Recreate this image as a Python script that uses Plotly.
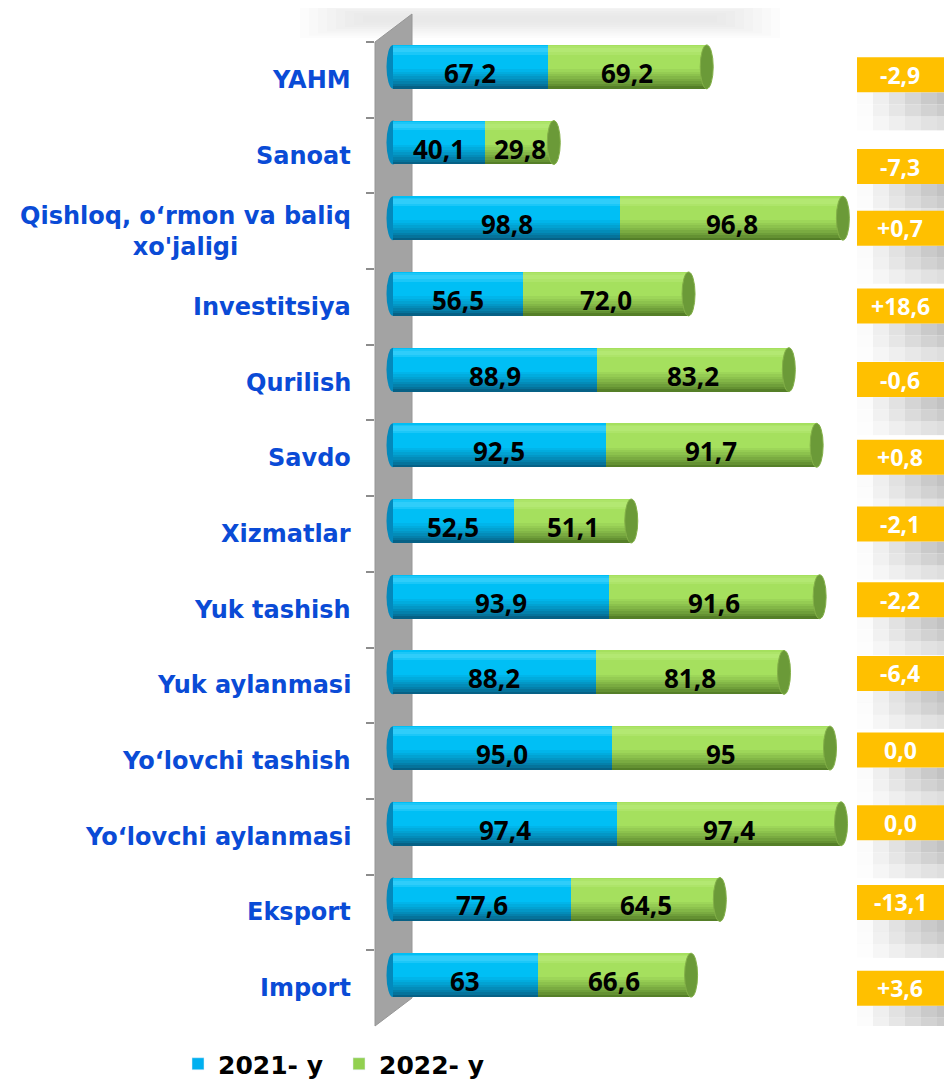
import plotly.graph_objects as go

categories = [
    "YAHM",
    "Sanoat",
    "Qishloq, o‘rmon va baliq<br>xo'jaligi",
    "Investitsiya",
    "Qurilish",
    "Savdo",
    "Xizmatlar",
    "Yuk tashish",
    "Yuk aylanmasi",
    "Yo‘lovchi tashish",
    "Yo‘lovchi aylanmasi",
    "Eksport",
    "Import",
]
values_2021 = [67.2, 40.1, 98.8, 56.5, 88.9, 92.5, 52.5, 93.9, 88.2, 95.0, 97.4, 77.6, 63]
values_2022 = [69.2, 29.8, 96.8, 72.0, 83.2, 91.7, 51.1, 91.6, 81.8, 95, 97.4, 64.5, 66.6]
labels_2021 = ["67,2", "40,1", "98,8", "56,5", "88,9", "92,5", "52,5", "93,9", "88,2", "95,0", "97,4", "77,6", "63"]
labels_2022 = ["69,2", "29,8", "96,8", "72,0", "83,2", "91,7", "51,1", "91,6", "81,8", "95", "97,4", "64,5", "66,6"]
change = ["-2,9", "-7,3", "+0,7", "+18,6", "-0,6", "+0,8", "-2,1", "-2,2", "-6,4", "0,0", "0,0", "-13,1", "+3,6"]
series_names = ["2021- y", "2022- y"]

# page geometry (px). The page body adds an 8px margin, so the figure is
# made 8px smaller and every position below is given in page pixels.
OFF = 8
W, H = 952 - OFF, 1082 - OFF
L = 375 - OFF
T = 42 - OFF
R = W - (855 - OFF)
B = H - (1026 - OFF)
PW, PH = W - L - R, H - T - B
X0_PX = 393          # page x where value 0 sits
SCALE = 2.30         # px per unit
N = len(categories)
STEP = PH / N
BAR_W = 0.58
SHIFT = 13 / STEP    # bars sit a little above their category row
TOP = -BAR_W / 2 - SHIFT
CAP_W = 13 / SCALE

# small vertical nudges (px, down) of the orange boxes, as in the original
BOX_NUDGE = [-5, 11, -3, -1, -3, -1, -10, -10, -12, -11, -14, -10, 0]
BOX_LEFT = 857 - 375   # px from plot's left edge

LABEL_BLUE = "#0A4BD6"
ORANGE = "#FFC000"


def mix(c1, c2, t):
    a = [int(c1[k:k + 2], 16) for k in (1, 3, 5)]
    b = [int(c2[k:k + 2], 16) for k in (1, 3, 5)]
    return "#" + "".join(f"{round(x + (y - x) * t):02X}" for x, y in zip(a, b))


def cylinder_layers(dark, main):
    # full bar in the dark tone, then shorter (top-aligned) bands getting brighter
    n = 9
    out = []
    for k in range(n):
        frac = 1.0 - 0.45 * k / (n - 1)
        out.append((frac, mix(dark, main, (k / (n - 1)) ** 0.8)))
    return out


BLUE_LAYERS = cylinder_layers("#066186", "#00BFF5")
GREEN_LAYERS = cylinder_layers("#557F28", "#A5E05E")
BLUE_HI = "#4ED6FF"
GREEN_HI = "#BCEE80"


def px_x(px):
    return (px - OFF - L) / PW


def px_y(py):
    return (H - B - (py - OFF)) / PH


fig = go.Figure()

totals = [a + b for a, b in zip(values_2021, values_2022)]

for vals, base, layers, hi in [
    (values_2021, [0] * N, BLUE_LAYERS, BLUE_HI),
    (values_2022, values_2021, GREEN_LAYERS, GREEN_HI),
]:
    for frac, col in layers:
        fig.add_trace(go.Bar(
            y=categories, x=vals, base=base, orientation="h",
            offset=TOP, width=BAR_W * frac,
            marker={"color": col, "line": {"width": 0}},
            showlegend=False, hoverinfo="skip",
        ))
    for a, b, op in [(0.03, 0.22, 0.35), (0.07, 0.17, 0.4)]:
        fig.add_trace(go.Bar(
            y=categories, x=vals, base=base, orientation="h",
            offset=TOP + BAR_W * a, width=BAR_W * (b - a),
            marker={"color": hi, "line": {"width": 0}}, opacity=op,
            showlegend=False, hoverinfo="skip",
        ))

# legend-only entries
for name, col in zip(series_names, ["#00B0F0", "#92D050"]):
    fig.add_trace(go.Bar(y=[categories[0]], x=[None], orientation="h", name=name,
                         marker={"color": col}, hoverinfo="skip"))

shapes = []

# blurred title ghost at top
for k in range(8):
    x0, x1 = 300 + k * 9, 780 - k * 9
    y0, y1 = 0 + k * 2.2, 38 - k * 2.2
    shapes.append(dict(type="rect", xref="paper", yref="paper",
                       x0=px_x(x0), x1=px_x(x1), y0=px_y(y1), y1=px_y(y0),
                       fillcolor="#CFCFCF", opacity=0.06, line={"width": 0}, layer="below"))

# grey 3D side wall
dx, dy = 37 / PW, 28 / PH
shapes.append(dict(
    type="path", xref="paper", yref="paper",
    path=f"M 0,0 L 0,1 L {dx},{1 + dy} L {dx},{dy} Z",
    fillcolor="#A3A3A3", line={"color": "#969696", "width": 1}, layer="below",
))

# rounded left ends of the cylinders and dark caps at the right ends
for i in range(N):
    y0, y1 = i + TOP, i + TOP + BAR_W
    shapes.append(dict(type="circle", xref="x", yref="y", x0=-CAP_W / 2, x1=CAP_W / 2, y0=y0, y1=y1,
                       fillcolor="#0389BC", line={"width": 0}, layer="below"))
    shapes.append(dict(type="circle", xref="x", yref="y",
                       x0=totals[i] - CAP_W / 2, x1=totals[i] + CAP_W / 2, y0=y0, y1=y1,
                       fillcolor="#6B9A38", line={"color": "#83B048", "width": 1}))

# orange boxes with their pixelated grey shadows
SH_COLS = ["#FBFBFB", "#EFEFEF", "#E2E2E2", "#D5D5D5", "#CACACA", "#C2C2C2"]
for i in range(N):
    bot = -BOX_NUDGE[i] - 17.5
    for k, col in enumerate(SH_COLS):
        for a, b, op in [(0, 12, 1.0), (12, 24, 0.85), (24, 38, 0.55)]:
            shapes.append(dict(type="rect", xref="paper", yref="y",
                               xsizemode="pixel", ysizemode="pixel", xanchor=0, yanchor=i,
                               x0=BOX_LEFT + k * 16, x1=BOX_LEFT + (k + 1) * 16,
                               y0=bot - b, y1=bot - a,
                               fillcolor=col, opacity=op, line={"width": 0}))
for i in range(N):
    cy = -BOX_NUDGE[i]
    shapes.append(dict(type="rect", xref="paper", yref="y",
                       xsizemode="pixel", ysizemode="pixel", xanchor=0, yanchor=i,
                       x0=BOX_LEFT, x1=BOX_LEFT + 100, y0=cy - 17.5, y1=cy + 17.5,
                       fillcolor=ORANGE, line={"width": 0}))

annotations = []
for i, cat in enumerate(categories):
    annotations.append(dict(
        x=px_x(353), xref="paper", y=cat, yref="y", xanchor="right", align="center",
        text=cat, showarrow=False,
        font={"family": "DejaVu Sans", "size": 24, "color": LABEL_BLUE, "weight": "bold"},
    ))
    annotations.append(dict(
        x=values_2021[i] / 2, y=cat, text=labels_2021[i], showarrow=False, yshift=7,
        xanchor="center",
        font={"family": "Open Sans", "size": 26, "color": "black", "weight": "bold"},
    ))
    annotations.append(dict(
        x=values_2021[i] + values_2022[i] / 2, y=cat, text=labels_2022[i], showarrow=False, yshift=7,
        xanchor="center",
        font={"family": "Open Sans", "size": 26, "color": "black", "weight": "bold"},
    ))
    annotations.append(dict(
        x=px_x(900), xref="paper", y=cat, yref="y", yshift=-BOX_NUDGE[i],
        xanchor="center", text=change[i], showarrow=False,
        font={"family": "Open Sans", "size": 23, "color": "white", "weight": "bold"},
    ))

fig.update_layout(
    width=W, height=H,
    margin={"l": L, "r": R, "t": T, "b": B, "autoexpand": False},
    paper_bgcolor="white", plot_bgcolor="white",
    barmode="overlay", bargap=0,
    shapes=shapes, annotations=annotations,
    showlegend=True,
    legend={
        "orientation": "h", "x": px_x(178), "xanchor": "left", "y": px_y(1064), "yanchor": "middle",
        "font": {"family": "DejaVu Sans", "size": 25, "color": "black", "weight": "bold"},
        "entrywidth": 116, "entrywidthmode": "pixels", "traceorder": "normal",
        "bgcolor": "rgba(0,0,0,0)",
    },
)
fig.update_xaxes(
    range=[(L + OFF - X0_PX) / SCALE, (L + OFF + PW - X0_PX) / SCALE],
    showticklabels=False, showgrid=False, zeroline=False, showline=False,
)
fig.update_yaxes(
    range=[N - 0.5, -0.5], showticklabels=False, showgrid=False, zeroline=False, showline=False,
    ticks="outside", tickson="boundaries", ticklen=8, tickcolor="#8C8C8C", tickwidth=1.5,
)

fig.write_html("out.html")
